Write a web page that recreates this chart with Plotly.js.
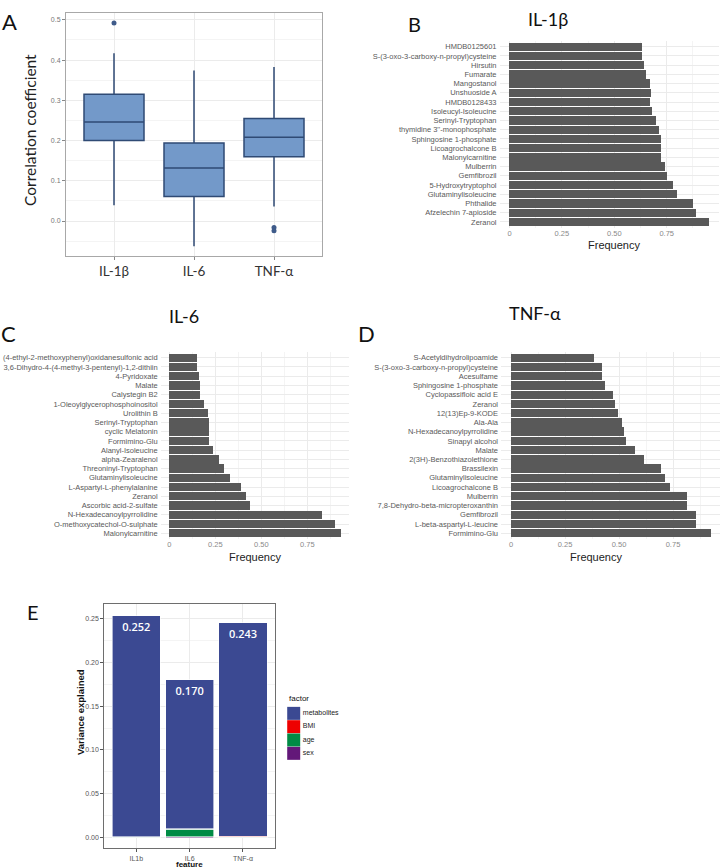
<!DOCTYPE html>
<html>
<head>
<meta charset="utf-8">
<script src="https://cdn.plot.ly/plotly-3.0.1.min.js"></script>
<style>html,body{margin:0;padding:0;background:#fff;}#chart{width:720px;height:868px;}</style>
</head>
<body>
<div id="chart"></div>
<script>
// ---------- Panel A: correlation coefficient boxplots ----------
const aCats = ['IL-1β', 'IL-6', 'TNF-α'];
const aQ1 = [0.200, 0.061, 0.160];
const aMedian = [0.246, 0.132, 0.208];
const aQ3 = [0.315, 0.194, 0.255];
const aLower = [0.039, -0.063, 0.036];
const aUpper = [0.417, 0.374, 0.383];
const aOutX = ['IL-1β', 'TNF-α', 'TNF-α'];
const aOutY = [0.492, -0.016, -0.024];

// ---------- Panel B: IL-1β frequency ----------
const bLabels = ['HMDB0125601', 'S-(3-oxo-3-carboxy-n-propyl)cysteine', 'Hirsutin', 'Fumarate',
  'Mangostanol', 'Unshuoside A', 'HMDB0128433', 'Isoleucyl-Isoleucine', 'Serinyl-Tryptophan',
  'thymidine 3\'\'-monophosphate', 'Sphingosine 1-phosphate', 'Licoagrochalcone B', 'Malonylcarnitine',
  'Mulberrin', 'Gemfibrozil', '5-Hydroxytryptophol', 'Glutaminylisoleucine', 'Phthalide',
  'Afzelechin 7-apioside', 'Zeranol'];
const bValues = [0.631, 0.631, 0.643, 0.652, 0.671, 0.673, 0.671, 0.682, 0.701, 0.711,
  0.722, 0.722, 0.722, 0.741, 0.752, 0.782, 0.801, 0.873, 0.892, 0.954];

// ---------- Panel C: IL-6 frequency ----------
const cLabels = ['(4-ethyl-2-methoxyphenyl)oxidanesulfonic acid', '3,6-Dihydro-4-(4-methyl-3-pentenyl)-1,2-dithiin',
  '4-Pyridoxate', 'Malate', 'Calystegin B2', '1-Oleoylglycerophosphoinositol', 'Urolithin B',
  'Serinyl-Tryptophan', 'cyclic Melatonin', 'Formimino-Glu', 'Alanyl-Isoleucine', 'alpha-Zearalenol',
  'Threoninyl-Tryptophan', 'Glutaminylisoleucine', 'L-Aspartyl-L-phenylalanine', 'Zeranol',
  'Ascorbic acid-2-sulfate', 'N-Hexadecanoylpyrrolidine', 'O-methoxycatechol-O-sulphate', 'Malonylcarnitine'];
const cValues = [0.149, 0.149, 0.159, 0.168, 0.168, 0.188, 0.208, 0.217, 0.217, 0.217,
  0.237, 0.268, 0.299, 0.330, 0.389, 0.418, 0.438, 0.832, 0.902, 0.931];

// ---------- Panel D: TNF-α frequency ----------
const dLabels = ['S-Acetyldihydrolipoamide', 'S-(3-oxo-3-carboxy-n-propyl)cysteine', 'Acesulfame',
  'Sphingosine 1-phosphate', 'Cyclopassifloic acid E', 'Zeranol', '12(13)Ep-9-KODE', 'Ala-Ala',
  'N-Hexadecanoylpyrrolidine', 'Sinapyl alcohol', 'Malate', '2(3H)-Benzothiazolethione', 'Brassilexin',
  'Glutaminylisoleucine', 'Licoagrochalcone B', 'Mulberrin', '7,8-Dehydro-beta-micropteroxanthin',
  'Gemfibrozil', 'L-beta-aspartyl-L-leucine', 'Formimino-Glu'];
const dValues = [0.383, 0.423, 0.423, 0.434, 0.474, 0.483, 0.494, 0.514, 0.523, 0.534,
  0.573, 0.614, 0.694, 0.715, 0.735, 0.815, 0.815, 0.855, 0.855, 0.926];
const freqTickVals = [0, 0.25, 0.5, 0.75];
const freqTickText = ['0', '0.25', '0.50', '0.75'];

// ---------- Panel E: variance explained ----------
const eFeatures = ['IL1b', 'IL6', 'TNF-α'];
const eMetabolites = [0.252, 0.170, 0.243];
const eBMI = [0.0003, 0.0003, 0.0015];
const eAge = [0.0003, 0.0085, 0.0002];
const eSex = [0.0002, 0.0012, 0.0002];
const eFactorNames = ['metabolites', 'BMI', 'age', 'sex'];
const eColors = ['#3B4992', '#EE0000', '#008B45', '#631879'];

// ---------- helpers ----------
const W = 720, H = 868;
const px = v => v / W;
const py = v => 1 - v / H;
const SANS = 'Liberation Sans, Arial, sans-serif';
const CAL = 'Lato, Open Sans, sans-serif';

const traces = [];

// A boxes
traces.push({
  type: 'box', xaxis: 'x', yaxis: 'y', x: aCats,
  q1: aQ1, median: aMedian, q3: aQ3, lowerfence: aLower, upperfence: aUpper,
  boxpoints: false, width: 0.75, whiskerwidth: 0,
  fillcolor: '#7399C9', line: {color: '#2F4A74', width: 1.5},
  showlegend: false, hoverinfo: 'skip'
});
traces.push({
  type: 'scatter', mode: 'markers', xaxis: 'x', yaxis: 'y', x: aOutX, y: aOutY,
  marker: {color: '#3F5B8A', size: 5}, showlegend: false, hoverinfo: 'skip'
});

function freqBars(labels, values, xa, ya) {
  return {
    type: 'bar', orientation: 'h', xaxis: xa, yaxis: ya, y: labels, x: values,
    width: 0.9, marker: {color: '#595959'}, showlegend: false, hoverinfo: 'skip'
  };
}
traces.push(freqBars(bLabels, bValues, 'x2', 'y2'));
traces.push(freqBars(cLabels, cValues, 'x3', 'y3'));
traces.push(freqBars(dLabels, dValues, 'x4', 'y4'));

// E stacked bars (bottom to top: sex, age, BMI, metabolites)
const eSeries = [eMetabolites, eBMI, eAge, eSex];
for (let i = 3; i >= 0; i--) {
  const t = {
    type: 'bar', xaxis: 'x5', yaxis: 'y5', x: eFeatures, y: eSeries[i], name: eFactorNames[i],
    width: 0.9, marker: {color: eColors[i], line: {color: '#FFFFFF', width: 0.6}},
    hoverinfo: 'skip', showlegend: false
  };
  if (i === 0) {
    t.text = eMetabolites.map(v => v.toFixed(3));
    t.textposition = 'inside';
    t.insidetextanchor = 'end';
    t.textangle = 0;
    t.textfont = {family: 'Open Sans, sans-serif', size: 11, color: '#FFFFFF', weight: 600};
  }
  traces.push(t);
}

// E legend keys (factor), drawn as a small keyed panel
traces.push({
  type: 'scatter', mode: 'markers+text', xaxis: 'x6', yaxis: 'y6',
  x: eFactorNames.map(() => 0), y: eFactorNames, text: eFactorNames,
  textposition: 'middle right', cliponaxis: false,
  marker: {symbol: 'square', size: 13, color: eColors, line: {width: 0}},
  textfont: {family: SANS, size: 7, color: '#222'},
  showlegend: false, hoverinfo: 'skip'
});

const gridCol = '#EBEBEB';
const minorCol = '#F4F4F4';

function freqX(domain, anchor, range) {
  return {
    domain: domain, anchor: anchor, range: range, tickmode: 'array',
    tickvals: freqTickVals, ticktext: freqTickText, showgrid: true, gridcolor: gridCol, gridwidth: 1,
    minor: {tickmode: 'array', tickvals: [0.125, 0.375, 0.625, 0.875], showgrid: true, gridcolor: minorCol, ticks: ''},
    zeroline: false, showline: false, ticks: '',
    tickfont: {family: SANS, size: 7.5, color: '#8A8A8A'}, fixedrange: true
  };
}
function freqY(domain, anchor, labels) {
  return {
    domain: domain, anchor: anchor, type: 'category', categoryorder: 'array', categoryarray: labels,
    range: [labels.length - 0.4, -0.6], showgrid: true, gridcolor: gridCol, gridwidth: 1,
    zeroline: false, showline: false, ticks: '', ticklabelstandoff: 2,
    tickfont: {family: SANS, size: 7.5, color: '#595959'}, fixedrange: true
  };
}

const layout = {
  width: W, height: H,
  margin: {l: 0, r: 0, t: 0, b: 0, pad: 0},
  paper_bgcolor: '#FFFFFF', plot_bgcolor: 'rgba(0,0,0,0)',
  showlegend: false,
  barmode: 'stack',
  bargap: 0.1,
  font: {family: SANS, color: '#333'},
  xaxis: {
    domain: [px(66), px(322)], anchor: 'y', type: 'category', categoryorder: 'array', categoryarray: aCats,
    range: [-0.6, 2.6], showgrid: true, gridcolor: gridCol, zeroline: false,
    showline: true, mirror: true, linecolor: '#A8A8A8', linewidth: 1,
    ticks: 'outside', ticklen: 3, tickcolor: '#888',
    tickfont: {family: CAL, size: 13.5, color: '#333'}, fixedrange: true
  },
  yaxis: {
    domain: [py(256), py(13)], anchor: 'x', range: [-0.087, 0.517], tick0: 0, dtick: 0.1, tickformat: '.1f',
    showgrid: true, gridcolor: gridCol, minor: {dtick: 0.05, tick0: 0, showgrid: true, gridcolor: minorCol, ticks: ''},
    zeroline: false, showline: true, mirror: true, linecolor: '#A8A8A8', linewidth: 1,
    ticks: 'outside', ticklen: 3, tickcolor: '#888',
    tickfont: {family: SANS, size: 7, color: '#777'}, fixedrange: true
  },
  xaxis2: freqX([px(499.5), px(718.5)], 'y2', [-0.0475, 0.997]),
  yaxis2: freqY([py(227.5), py(41.2)], 'x2', bLabels),
  xaxis3: freqX([px(160.7), px(349.3)], 'y3', [-0.0466, 0.978]),
  yaxis3: freqY([py(538.8), py(352.2)], 'x3', cLabels),
  xaxis4: freqX([px(501), 1], 'y4', [-0.0463, 0.9676]),
  yaxis4: freqY([py(538.8), py(352.2)], 'x4', dLabels),
  xaxis5: {
    domain: [px(104.3), px(275)], anchor: 'y5', type: 'category', categoryorder: 'array', categoryarray: eFeatures,
    range: [-0.6, 2.6], showgrid: true, gridcolor: gridCol, zeroline: false,
    showline: true, mirror: true, linecolor: '#6E6E6E', linewidth: 1,
    ticks: 'outside', ticklen: 3, tickcolor: '#555',
    tickfont: {family: SANS, size: 7, color: '#555'}, fixedrange: true
  },
  yaxis5: {
    domain: [py(848.3), py(604.3)], anchor: 'x5', range: [-0.0121, 0.266], tick0: 0, dtick: 0.05, tickformat: '.2f',
    showgrid: true, gridcolor: gridCol, minor: {dtick: 0.025, tick0: 0, showgrid: true, gridcolor: minorCol, ticks: ''},
    zeroline: false, showline: true, mirror: true, linecolor: '#6E6E6E', linewidth: 1,
    ticks: 'outside', ticklen: 3, tickcolor: '#555',
    tickfont: {family: SANS, size: 7, color: '#555'}, fixedrange: true
  },
  xaxis6: {domain: [px(280), px(340)], anchor: 'y6', range: [-13.7, 46.3], visible: false, fixedrange: true},
  yaxis6: {domain: [py(760), py(706.7)], anchor: 'x6', type: 'category', categoryorder: 'array',
    categoryarray: eFactorNames, range: [3.5, -0.5], visible: false, fixedrange: true},
  annotations: [
    {text: 'A', x: px(9), y: py(22), font: {family: CAL, size: 22, color: '#111'}},
    {text: 'Correlation coefficient', x: px(30), y: py(130), textangle: -90, font: {family: CAL, size: 15.5, color: '#222'}},
    {text: 'B', x: px(415), y: py(24), font: {family: CAL, size: 20, color: '#111'}},
    {text: 'IL-1β', x: px(548), y: py(19), font: {family: CAL, size: 18, color: '#111'}},
    {text: 'Frequency', x: px(614), y: py(245), font: {family: SANS, size: 11, color: '#222'}},
    {text: 'C', x: px(8), y: py(333), font: {family: CAL, size: 22, color: '#111'}},
    {text: 'IL-6', x: px(184), y: py(316), font: {family: CAL, size: 18, color: '#111'}},
    {text: 'Frequency', x: px(255), y: py(557), font: {family: SANS, size: 11, color: '#222'}},
    {text: 'D', x: px(366), y: py(333), font: {family: CAL, size: 22, color: '#111'}},
    {text: 'TNF-α', x: px(535), y: py(313), font: {family: CAL, size: 18, color: '#111'}},
    {text: 'Frequency', x: px(596), y: py(557), font: {family: SANS, size: 11, color: '#222'}},
    {text: 'E', x: px(33), y: py(612), font: {family: CAL, size: 20, color: '#111'}},
    {text: 'Variance explained', x: px(80), y: py(712), textangle: -90, font: {family: SANS, size: 9.5, color: '#111', weight: 'bold'}},
    {text: 'feature', x: px(189.5), y: py(864), font: {family: SANS, size: 8, color: '#111', weight: 'bold'}},
    {text: 'factor', x: px(286.5), y: py(698), xanchor: 'left', font: {family: SANS, size: 8, color: '#111'}}
  ].map(a => Object.assign({xref: 'paper', yref: 'paper', showarrow: false, xanchor: 'center', yanchor: 'middle'}, a))
};

Plotly.newPlot('chart', traces, layout, {staticPlot: true, displayModeBar: false});
</script>
</body>
</html>
